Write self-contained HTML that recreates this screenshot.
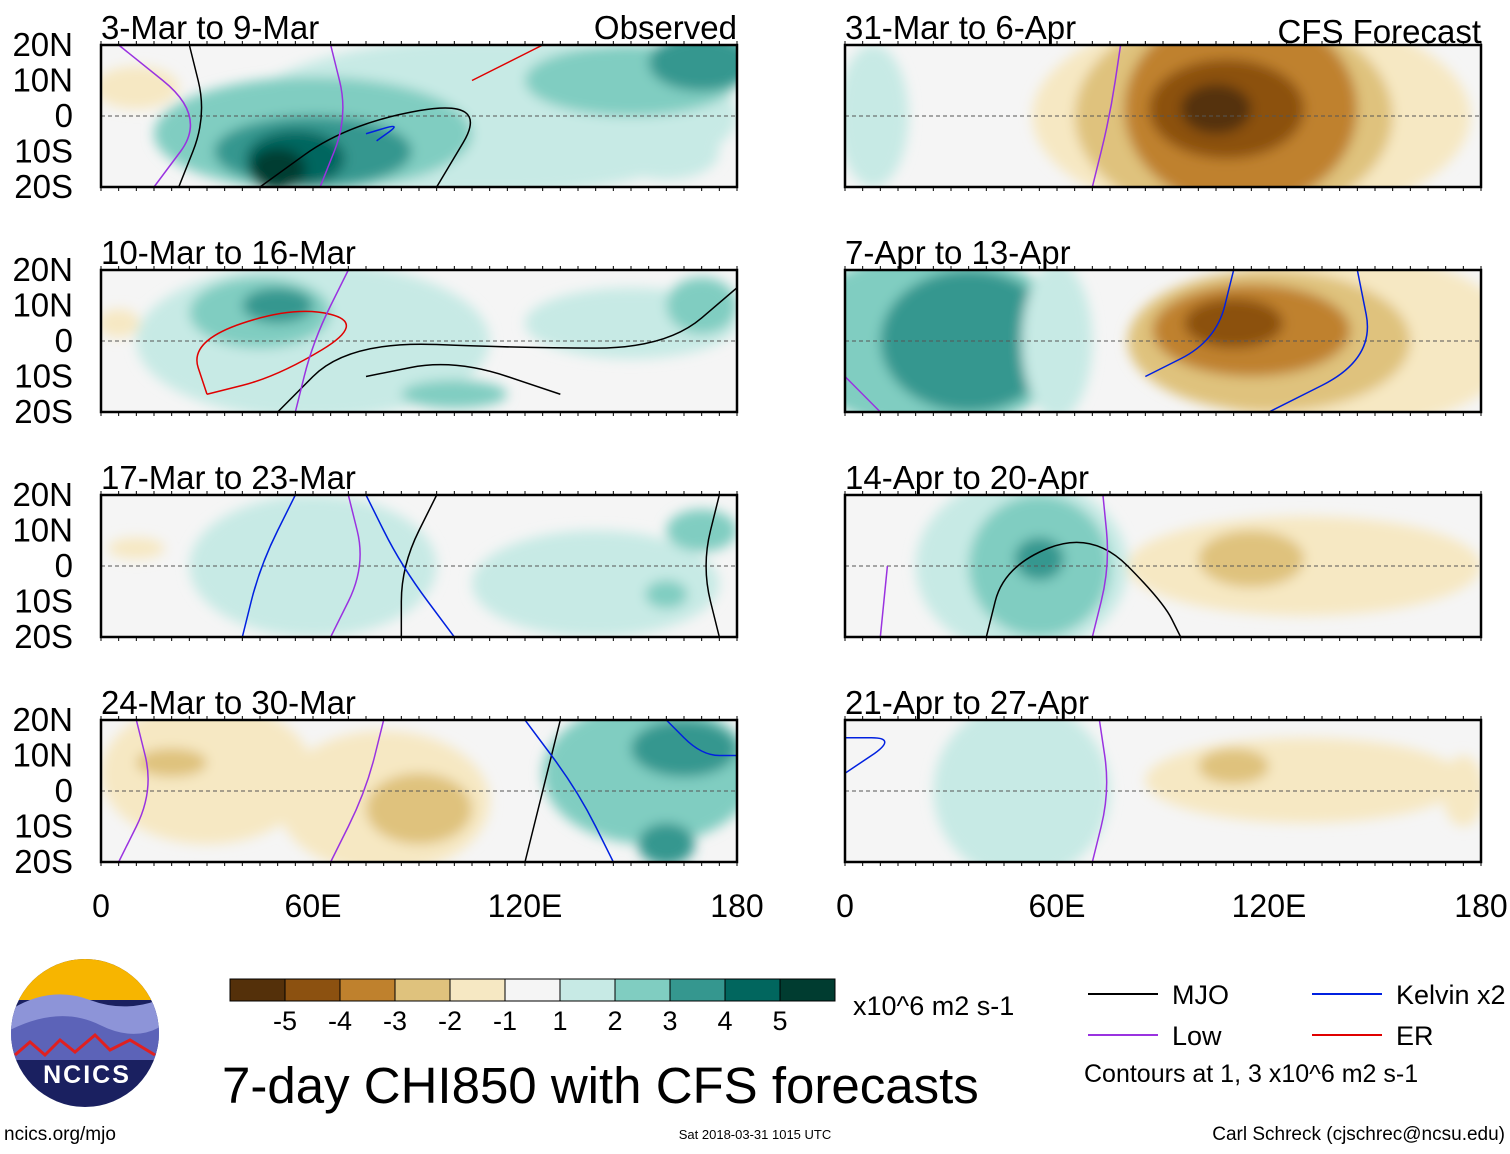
<!DOCTYPE html>
<html><head><meta charset="utf-8"><style>
body{margin:0;background:#fff;font-family:"Liberation Sans",sans-serif}
svg text{font-family:"Liberation Sans",sans-serif}
</style></head><body>
<svg id="s" width="1510" height="1149" xmlns="http://www.w3.org/2000/svg">
<defs><filter id="bl"><feGaussianBlur stdDeviation="6"/></filter></defs>
<g id="panels"></g>
<g id="bottom"></g>
</svg>
<script>
const levelColors=["#54300a","#8c5110","#bf812d","#dfc27d","#f6e8c3","#f5f5f5","#c7eae5","#80cdc1","#35978f","#01665e","#003c30"];
const cbLabels=["-5","-4","-3","-2","-1","1","2","3","4","5"];
const panelTitles=["3-Mar to 9-Mar","10-Mar to 16-Mar","17-Mar to 23-Mar","24-Mar to 30-Mar","31-Mar to 6-Apr","7-Apr to 13-Apr","14-Apr to 20-Apr","21-Apr to 27-Apr"];
const latTicks=[20,10,0,-10,-20];
const latLabels=["20N","10N","0","10S","20S"];
const lonTicks=[0,60,120,180];
const lonLabels=["0","60E","120E","180"];
// blobs: [lon, lat, rxDeg, ryDeg, levelIndex]
const blobs=[
 [[10,8,12,6,4],[110,0,70,22,6],[60,-5,45,16,7],[150,10,30,10,7],[170,15,15,8,8],[60,-10,28,10,8],[55,-12,14,8,9],[50,-15,8,6,10],[160,-10,15,8,6]],
 [[5,5,6,4,4],[60,0,50,22,6],[45,8,20,10,7],[50,10,10,5,8],[150,5,30,10,6],[170,10,10,8,7],[100,-15,15,4,7]],
 [[10,5,8,3,4],[60,0,35,20,6],[140,-5,35,15,6],[170,10,10,6,7],[160,-8,6,4,7]],
 [[30,5,30,20,4],[80,-3,30,20,4],[90,-5,15,10,3],[20,8,10,4,3],[155,5,30,20,7],[165,12,15,8,8],[160,-15,8,6,8]],
 [[115,0,62,30,4],[110,0,45,30,3],[112,2,33,28,2],[108,2,22,14,1],[105,2,10,7,0],[8,0,10,20,6]],
 [[25,0,40,25,7],[35,0,25,20,8],[60,0,10,22,6],[140,0,50,25,4],[120,0,40,20,3],[115,3,28,13,2],[110,5,14,7,1]],
 [[50,0,30,25,6],[55,0,20,20,7],[55,2,7,6,8],[130,0,50,14,4],[115,2,15,8,3]],
 [[50,0,25,25,6],[130,3,45,12,4],[110,7,10,5,3],[175,0,6,10,4]]
];
// contours: [type, [[lon,lat],...]]  type 0 MJO black,1 Low purple,2 Kelvin blue,3 ER red
const contours=[
 [[0,[[25,20],[30,0],[22,-20]]],[0,[[45,-20],[70,-2],[110,5],[95,-20]]],[1,[[5,20],[30,0],[15,-20]]],[1,[[65,20],[70,0],[62,-20]]],[2,[[75,-5],[85,-2],[78,-7]]],[3,[[105,10],[115,15],[125,20]]]],
 [[0,[[50,-20],[70,0],[120,-2],[160,-2],[180,15]]],[0,[[75,-10],[100,-5],[130,-15]]],[3,[[30,-15],[25,0],[55,10],[75,5],[50,-10],[30,-15]]],[1,[[55,-20],[60,0],[70,20]]]],
 [[0,[[85,-20],[85,0],[95,20]]],[0,[[175,20],[170,0],[175,-20]]],[2,[[40,-20],[45,0],[55,20]]],[2,[[100,-20],[85,0],[75,20]]],[1,[[65,-20],[75,0],[70,20]]]],
 [[0,[[120,-20],[125,0],[130,20]]],[2,[[145,-20],[135,0],[120,20]]],[2,[[160,20],[170,10],[180,10]]],[1,[[5,-20],[15,0],[10,20]]],[1,[[65,-20],[75,0],[80,20]]]],
 [[1,[[70,-20],[75,0],[78,20]]]],
 [[2,[[85,-10],[105,0],[110,20]]],[2,[[120,-20],[150,-5],[145,20]]],[1,[[0,-10],[10,-20]]]],
 [[0,[[40,-20],[45,0],[70,10],[90,-10],[95,-20]]],[1,[[70,-20],[75,0],[73,20]]],[1,[[10,-20],[12,0]]]],
 [[1,[[70,-20],[75,0],[72,20]]],[2,[[0,15],[15,15],[0,5]]]]
];
const lineColors=["#000","#9a32e0","#0020e0","#e00000"];
const NS="http://www.w3.org/2000/svg";
const P=document.getElementById('panels');
function el(t,a,p){const e=document.createElementNS(NS,t);for(const k in a)e.setAttribute(k,a[k]);(p||P).appendChild(e);return e;}
const lefts=[101,845],W=636,tops=[45,270,495,720],H=142;
for(let i=0;i<8;i++){
 const col=i<4?0:1,row=i%4,x0=lefts[col],y0=tops[row];
 const X=lon=>x0+lon/180*W,Y=lat=>y0+(20-lat)/40*H;
 const g=el('g',{});
 
 
 const cid='c'+i;
 const cp=el('clipPath',{id:cid},g);el('rect',{x:x0,y:y0,width:W,height:H},cp);
 el('rect',{x:x0,y:y0,width:W,height:H,fill:levelColors[5]},g);
 const bg=el('g',{'clip-path':`url(#${cid})`},g);
 const fg=el('g',{filter:'url(#bl)'},bg);
 blobs[i].forEach(b=>{const e=el('ellipse',{cx:X(b[0]),cy:Y(b[1]),rx:b[2]/180*W,ry:b[3]/40*H,fill:levelColors[b[4]]},fg);
  });
 el('line',{x1:x0,x2:x0+W,y1:Y(0),y2:Y(0),stroke:'#555','stroke-dasharray':'4,3','stroke-width':1},bg);
 contours[i].forEach(c=>{const pts=c[1].map(p=>[X(p[0]),Y(p[1])]);let d='M'+pts[0].join(',');
  for(let k=1;k<pts.length;k++){const m=[(pts[k-1][0]+pts[k][0])/2,(pts[k-1][1]+pts[k][1])/2];d+=' Q'+pts[k-1].join(',')+' '+m.join(',');}
  d+=' L'+pts[pts.length-1].join(',');
  const e=el('path',{d:d,fill:'none',stroke:lineColors[c[0]],'stroke-width':1.5},bg);
  });
 el('rect',{x:x0,y:y0,width:W,height:H,fill:'none',stroke:'#000','stroke-width':2.5},g);
 for(let l=0;l<=180;l+=5){const x=X(l);el('line',{x1:x,x2:x,y1:y0-4,y2:y0,stroke:'#000'},g);el('line',{x1:x,x2:x,y1:y0+H,y2:y0+H+4,stroke:'#000'},g);}
 const t=el('text',{x:x0,y:y0-6,'font-size':33},g);t.textContent=panelTitles[i];
 
 if(i==0){const o=el('text',{x:x0+W,y:y0-6,'font-size':33,'text-anchor':'end'},g);o.textContent='Observed';}
 if(i==4){const o=el('text',{x:x0+W,y:y0-2,'font-size':33,'text-anchor':'end'},g);o.textContent='CFS Forecast';}
 if(col==0)latTicks.forEach((la,k)=>{const tt=el('text',{x:73,y:Y(la)+11,'font-size':33,'text-anchor':'end'},g);tt.textContent=latLabels[k];
  });
 if(row==3)lonTicks.forEach((lo,k)=>{const tt=el('text',{x:X(lo),y:917,'font-size':32,'text-anchor':'middle'},g);tt.textContent=lonLabels[k];
  });
}
const B=document.getElementById('bottom');
levelColors.forEach((c,k)=>{const r=el('rect',{x:230+k*55,y:979,width:55,height:22,fill:c,stroke:'#000'},B);
 });
cbLabels.forEach((l,k)=>{const x=285+k*55;const t=el('text',{x:x,y:1030,'font-size':27,'text-anchor':'middle'},B);t.textContent=l;
 });
function tx(x,y,s,str,a,name){const t=el('text',{x:x,y:y,'font-size':s,'text-anchor':a||'start'},B);t.textContent=str;return t;}
tx(853,1015,27,'x10^6 m2 s-1','start','colorbar-units');
tx(222,1103,51,'7-day CHI850 with CFS forecasts','start','figure-title');
[[1088,994,0,'MJO'],[1088,1035,1,'Low'],[1312,994,2,'Kelvin x2'],[1312,1035,3,'ER']].forEach(l=>{
 const ln=el('line',{x1:l[0],x2:l[0]+70,y1:l[1],y2:l[1],stroke:lineColors[l[2]],'stroke-width':2},B);
 
 tx(l[0]+84,l[1]+10,27,l[3],'start','legend-entry');});
tx(1084,1082,25,'Contours at 1, 3 x10^6 m2 s-1','start','contour-note');
tx(4,1140,19,'ncics.org/mjo','start','url-text');
tx(755,1139,13,'Sat 2018-03-31 1015 UTC','middle','timestamp');
tx(1505,1140,19,'Carl Schreck (cjschrec@ncsu.edu)','end','author');
const lg=el('g',{},B);
el('clipPath',{id:'lc'},lg).appendChild(document.createElementNS(NS,'circle')).setAttribute('r',0);
const cl=document.getElementById('lc').firstChild;cl.setAttribute('cx',85);cl.setAttribute('cy',1033);cl.setAttribute('r',74);
const lgi=el('g',{'clip-path':'url(#lc)'},lg);
el('rect',{x:0,y:955,width:170,height:160,fill:'#1a2060'},lgi);
el('rect',{x:0,y:955,width:170,height:45,fill:'#f7b500'},lgi);
el('path',{d:'M10,1010 Q50,985 90,1000 T170,995 L170,1040 L10,1040Z',fill:'#8d94d8'},lgi);
el('path',{d:'M10,1030 Q60,1005 100,1025 T170,1020 L170,1060 L10,1060Z',fill:'#5c63b8'},lgi);
el('path',{d:'M15,1055 L30,1042 L45,1055 L60,1040 L75,1052 L95,1035 L110,1050 L130,1040 L155,1055',fill:'none',stroke:'#e02020','stroke-width':3},lgi);
const lt=el('text',{x:87,y:1083,'font-size':25,'font-weight':'bold',fill:'#fff','text-anchor':'middle','letter-spacing':2},lg);lt.textContent='NCICS';
</script>
</body></html>
